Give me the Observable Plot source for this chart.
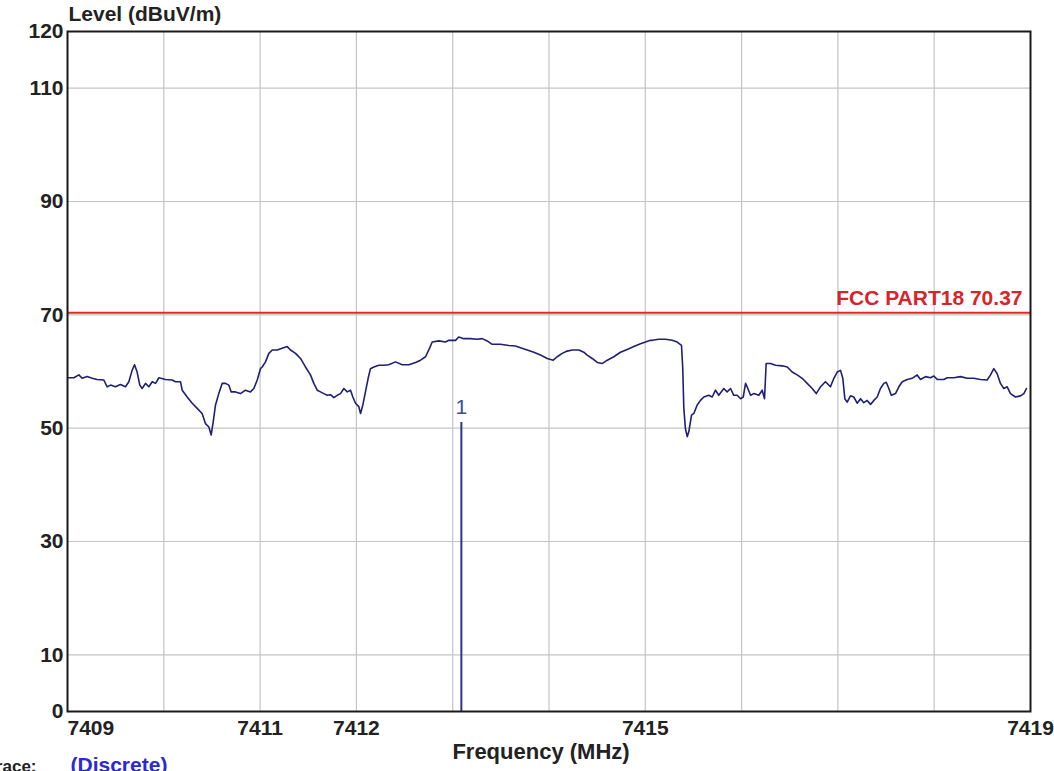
<!DOCTYPE html>
<html>
<head>
<meta charset="utf-8">
<script src="https://cdn.jsdelivr.net/npm/d3@7"></script>
<script src="https://cdn.jsdelivr.net/npm/@observablehq/plot@0.6"></script>
<style>
  html, body { margin: 0; padding: 0; background: #fff; overflow: hidden; }
  #chart svg { display: block; }
</style>
</head>
<body>
<div id="chart"></div>
<script>
// ---- data ----
const xDomain = [7409, 7419];
const yDomain = [0, 120];
const xTickLabels = [7411, 7412, 7415, 7419];
const xFirstTick = [7409];
const yTickLabels = [0, 10, 30, 50, 70, 90, 110, 120];
const xGridLines = [7410, 7411, 7412, 7413, 7414, 7415, 7416, 7417, 7418];
const yGridLines = [10, 30, 50, 70, 90, 110];
const yTitle = "Level (dBuV/m)";
const xTitle = "Frequency (MHz)";
const limitValue = 70.37;
const limitLabel = "FCC PART18 70.37";
const markers = [{id: "1", f: 7413.09, v: 51}];
const legendLabel = "Trace:";
const legendValue = "(Discrete)";

// [frequency MHz, level dBuV/m]
const trace = [
  [7409.003,58.9],[7409.066,58.9],[7409.118,59.4],[7409.152,58.8],[7409.204,59.1],[7409.256,58.8],
  [7409.308,58.6],[7409.377,58.5],[7409.412,57.3],[7409.447,57.6],[7409.498,57.3],[7409.550,57.7],
  [7409.602,57.3],[7409.637,58.2],[7409.671,60.2],[7409.696,61.2],[7409.723,59.9],[7409.751,57.6],
  [7409.775,57.0],[7409.810,57.9],[7409.845,57.3],[7409.880,58.2],[7409.914,57.9],[7409.949,58.9],
  [7410.018,58.6],[7410.087,58.5],[7410.121,58.2],[7410.173,58.2],[7410.191,56.7],[7410.243,55.5],
  [7410.295,54.4],[7410.347,53.5],[7410.398,52.6],[7410.433,50.8],[7410.468,50.2],[7410.492,48.8],
  [7410.513,51.1],[7410.537,54.1],[7410.571,56.1],[7410.606,57.9],[7410.641,57.9],[7410.675,57.6],
  [7410.700,56.4],[7410.745,56.4],[7410.796,56.1],[7410.848,56.7],[7410.900,56.4],[7410.935,57.0],
  [7410.970,58.5],[7411.004,60.5],
  [7411.022,60.8],[7411.056,61.7],[7411.091,63.2],[7411.126,63.8],[7411.178,63.8],[7411.229,64.1],
  [7411.281,64.4],[7411.316,63.8],[7411.368,63.2],[7411.420,62.3],[7411.471,60.8],[7411.523,59.4],
  [7411.558,57.9],[7411.593,56.7],[7411.627,56.4],[7411.662,56.1],[7411.697,55.8],[7411.731,55.9],
  [7411.766,55.4],[7411.801,55.8],[7411.835,56.1],[7411.870,57.0],[7411.905,56.4],[7411.939,56.7],
  [7411.963,55.5],[7411.991,54.4],[7412.025,53.8],[7412.043,52.6],[7412.067,54.1],[7412.094,56.4],
  [7412.122,58.8],[7412.146,60.5],[7412.181,60.8],[7412.233,61.1],[7412.284,61.1],[7412.336,61.2],
  [7412.406,61.7],[7412.475,61.2],[7412.544,61.2],[7412.614,61.6],[7412.666,62.0],[7412.718,62.6],
  [7412.752,63.8],[7412.787,65.2],[7412.856,65.4],[7412.925,65.2],[7412.960,65.5],[7413.029,65.5],
  [7413.063,66.1],[7413.115,65.8],[7413.185,65.8],[7413.254,65.7],[7413.306,65.8],[7413.358,65.4],
  [7413.410,64.8],[7413.496,64.8],[7413.583,64.6],[7413.652,64.5],[7413.704,64.2],[7413.774,63.8],
  [7413.842,63.4],[7413.912,62.9],[7413.981,62.3],[7414.044,62.0],[7414.085,62.6],[7414.137,63.2],
  [7414.189,63.6],[7414.241,63.8],[7414.310,63.8],[7414.361,63.4],[7414.396,62.9],[7414.449,62.3],
  [7414.501,61.6],[7414.552,61.4],[7414.605,62.0],[7414.673,62.6],[7414.742,63.4],[7414.812,63.9],
  [7414.881,64.4],[7414.950,64.9],[7415.002,65.2],[7415.054,65.5],
  [7415.072,65.5],[7415.140,65.7],[7415.210,65.7],[7415.279,65.5],[7415.331,65.2],[7415.376,64.6],
  [7415.389,60.5],[7415.400,53.5],[7415.417,49.9],[7415.435,48.5],[7415.452,49.4],[7415.480,52.3],
  [7415.504,52.6],[7415.539,54.1],[7415.573,54.9],[7415.608,55.5],[7415.659,55.8],[7415.695,55.5],
  [7415.729,56.7],[7415.763,55.8],[7415.815,57.0],[7415.850,56.4],[7415.885,57.0],[7415.919,55.8],
  [7415.954,55.8],[7415.989,55.2],[7416.017,55.5],[7416.041,57.9],[7416.058,57.3],[7416.093,55.8],
  [7416.127,56.1],[7416.179,55.8],[7416.214,56.7],[7416.238,55.2],[7416.255,61.4],[7416.300,61.4],
  [7416.352,61.1],[7416.422,61.0],[7416.474,60.8],[7416.525,59.9],[7416.577,59.4],[7416.629,58.8],
  [7416.681,57.9],[7416.733,57.0],[7416.775,56.1],[7416.819,57.3],[7416.871,58.2],[7416.923,57.3],
  [7416.958,58.8],[7416.993,59.9],[7417.027,60.2],[7417.051,58.8],[7417.072,55.2],
  [7417.096,54.6],[7417.131,55.7],[7417.165,55.5],[7417.200,54.4],[7417.235,55.2],[7417.269,54.5],
  [7417.304,54.9],[7417.339,54.2],[7417.373,54.9],[7417.408,55.5],[7417.442,57.0],[7417.477,57.9],
  [7417.502,58.1],[7417.529,57.0],[7417.554,55.8],[7417.598,56.1],[7417.633,57.3],[7417.668,58.2],
  [7417.720,58.6],[7417.771,58.8],[7417.823,59.4],[7417.858,58.6],[7417.910,59.1],[7417.961,58.9],
  [7417.996,59.2],[7418.031,58.6],[7418.100,58.6],[7418.135,58.9],[7418.204,58.9],[7418.273,59.1],
  [7418.342,58.8],[7418.411,58.8],[7418.481,58.6],[7418.550,58.5],[7418.585,59.4],[7418.619,60.5],
  [7418.654,59.6],[7418.688,57.9],[7418.723,57.0],[7418.758,57.3],[7418.792,56.1],[7418.844,55.5],
  [7418.896,55.7],[7418.931,56.1],[7418.958,57.0]
];

// ---- chart ----
const font = "'Liberation Sans', Arial, sans-serif";
const chart = Plot.plot({
  width: 1054,
  height: 771,
  marginLeft: 67,
  marginRight: 24,
  marginTop: 31,
  marginBottom: 60,
  style: {fontFamily: font, background: "#fff", overflow: "hidden"},
  x: {domain: xDomain},
  y: {domain: yDomain},
  marks: [
    Plot.gridX({ticks: xGridLines, stroke: "#c4c4c4", strokeOpacity: 1, strokeWidth: 1.2}),
    Plot.gridY({ticks: yGridLines, stroke: "#c4c4c4", strokeOpacity: 1, strokeWidth: 1.2}),
    Plot.ruleY([limitValue], {stroke: "#e3262e", strokeWidth: 2}),
    Plot.text([limitLabel], {x: [xDomain[1]], y: [limitValue], text: d => d, textAnchor: "end",
      dx: -8, dy: -14, fill: "#d8232c", fontSize: 21, fontWeight: "bold"}),
    Plot.line(trace, {x: d => d[0], y: d => d[1], stroke: "#1f1f75", strokeWidth: 1.6}),
    Plot.ruleX(markers, {x: "f", y1: 0, y2: "v", stroke: "#2c3590", strokeWidth: 2}),
    Plot.text(markers, {x: "f", y: "v", text: "id", dy: -15, fill: "#3a4aa0", fontSize: 21}),
    Plot.axisY({ticks: yTickLabels, tickSize: 0, tickPadding: 4, label: null, tickFormat: d => String(d),
      fontSize: 21, fontWeight: "bold", fill: "#222"}),
    Plot.axisX({ticks: xTickLabels, tickSize: 0, tickPadding: 9, label: null, tickFormat: d => String(d),
      fontSize: 21, fontWeight: "bold", fill: "#222"}),
    Plot.axisX({ticks: xFirstTick, tickSize: 0, tickPadding: 9, label: null, tickFormat: d => String(d),
      textAnchor: "start", fontSize: 21, fontWeight: "bold", fill: "#222"}),
    Plot.text([yTitle], {frameAnchor: "top-left", text: d => d, textAnchor: "start", dx: 1, dy: -25,
      fontSize: 21, fontWeight: "bold", fill: "#222"}),
    Plot.text([xTitle], {frameAnchor: "bottom", text: d => d, dx: -8, dy: 47,
      fontSize: 22, fontWeight: "bold", fill: "#222"}),
    Plot.text([legendLabel], {frameAnchor: "bottom-left", text: d => d, textAnchor: "end", dx: -31, dy: 60,
      fontSize: 17, fontWeight: "bold", fill: "#222"}),
    Plot.text([legendValue], {frameAnchor: "bottom-left", text: d => d, textAnchor: "start", dx: 3, dy: 60,
      fontSize: 21, fontWeight: "bold", fill: "#2a2ad0"}),
    Plot.frame({stroke: "#1a1a1a", strokeWidth: 2})
  ]
});
document.getElementById("chart").appendChild(chart);
</script>
</body>
</html>
